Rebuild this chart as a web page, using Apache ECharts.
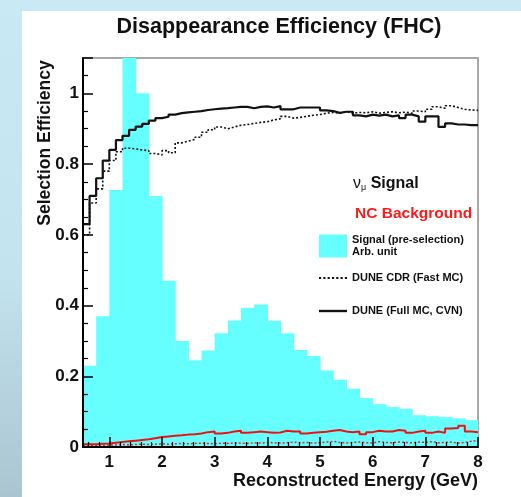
<!DOCTYPE html>
<html><head><meta charset="utf-8">
<script src="https://cdn.jsdelivr.net/npm/echarts@6/dist/echarts.min.js"></script>
<style>
html,body{margin:0;padding:0;width:521px;height:497px;overflow:hidden;}
body{background:linear-gradient(to bottom,#c9eaf5 0%,#c3e3ef 55%,#aac5d0 100%);position:relative;}
#panel{position:absolute;left:22px;top:11px;right:0;bottom:0;background:#fff;}
#chart{position:absolute;left:0;top:0;width:521px;height:497px;}
</style></head><body><div id="panel"></div><div id="chart"></div>
<script>
// ---- axis range / binning ----
const xMin = 0.5, xMax = 8;
const yMin = 0, yMax = 1.1;
const signalBinWidth = 0.25;   // GeV
const effBinWidth = 0.125;     // GeV

// ---- Signal (pre-selection), arbitrary units, 0.25 GeV bins from 0.5 GeV ----
const signalPreSel = [0.23, 0.37, 0.727, 1.2, 1.0, 0.71, 0.47, 0.30, 0.245, 0.273,
  0.322, 0.358, 0.394, 0.403, 0.357, 0.322, 0.274, 0.257, 0.216, 0.19,
  0.165, 0.138, 0.121, 0.113, 0.108, 0.09, 0.087, 0.085, 0.081, 0.076];

// ---- nu_mu signal efficiency, 0.125 GeV bins from 0.5 GeV ----
const cvnFullMC = [0.63, 0.71, 0.76, 0.81, 0.84, 0.868, 0.88, 0.897, 0.906, 0.914,
  0.923, 0.93, 0.934, 0.94, 0.944, 0.946, 0.948, 0.95, 0.953, 0.955,
  0.957, 0.958, 0.96, 0.962, 0.962, 0.958, 0.962, 0.963, 0.96, 0.964,
  0.955, 0.955, 0.96, 0.96, 0.96, 0.96, 0.952, 0.95, 0.945, 0.948,
  0.948, 0.938, 0.935, 0.94, 0.937, 0.94, 0.935, 0.938, 0.93, 0.94,
  0.935, 0.92, 0.935, 0.935, 0.905, 0.915, 0.912, 0.912, 0.91, 0.91];
const cdrFastMC = [0.60, 0.69, 0.73, 0.78, 0.81, 0.835, 0.845, 0.843, 0.84, 0.838,
  0.83, 0.826, 0.838, 0.832, 0.86, 0.865, 0.87, 0.876, 0.89, 0.897,
  0.905, 0.9, 0.905, 0.91, 0.912, 0.915, 0.918, 0.92, 0.925, 0.928,
  0.935, 0.93, 0.932, 0.935, 0.938, 0.94, 0.944, 0.946, 0.944, 0.948,
  0.944, 0.946, 0.945, 0.948, 0.944, 0.946, 0.948, 0.945, 0.947, 0.944,
  0.95, 0.948, 0.955, 0.962, 0.958, 0.965, 0.96, 0.955, 0.953, 0.952];

// ---- NC background efficiency, 0.125 GeV bins from 0.5 GeV ----
const ncFullMC = [0.008, 0.008, 0.009, 0.01, 0.012, 0.014, 0.016, 0.018, 0.02, 0.022,
  0.025, 0.028, 0.03, 0.032, 0.033, 0.035, 0.036, 0.038, 0.042, 0.044,
  0.038, 0.04, 0.044, 0.046, 0.04, 0.042, 0.044, 0.042, 0.04, 0.041,
  0.046, 0.044, 0.044, 0.038, 0.04, 0.042, 0.043, 0.046, 0.048, 0.044,
  0.042, 0.044, 0.036, 0.042, 0.046, 0.044, 0.044, 0.048, 0.046, 0.04,
  0.044, 0.046, 0.04, 0.044, 0.04, 0.052, 0.054, 0.06, 0.044, 0.042];
const ncFastMC = [0.004, 0.005, 0.005, 0.006, 0.006, 0.007, 0.006, 0.007, 0.008, 0.007,
  0.008, 0.009, 0.008, 0.009, 0.01, 0.009, 0.01, 0.011, 0.01, 0.009,
  0.011, 0.01, 0.012, 0.011, 0.01, 0.012, 0.011, 0.013, 0.012, 0.011,
  0.012, 0.014, 0.012, 0.013, 0.011, 0.012, 0.014, 0.016, 0.013, 0.012,
  0.013, 0.014, 0.012, 0.011, 0.015, 0.013, 0.012, 0.014, 0.013, 0.012,
  0.014, 0.013, 0.015, 0.012, 0.013, 0.014, 0.011, 0.013, 0.016, 0.018];

// ---- names ----
const nameSignal = 'Signal (pre-selection)\nArb. unit';
const nameCDR = 'DUNE CDR (Fast MC)';
const nameCVN = 'DUNE (Full MC, CVN)';

const FONT = '"Liberation Sans", Arial, Helvetica, sans-serif';

// legend icons drawn as plain line samples
const iconSolid = 'path://M0,0h26v2.2h-26z';
let iconDotted = 'path://';
for (let k = 0; k < 7; k++) iconDotted += 'M' + (k * 4) + ',0h2v1.8h-2z';

function stepData(vals, w) {
  const d = vals.map((v, i) => [xMin + i * w, v]);
  d.push([xMin + vals.length * w, vals[vals.length - 1]]);
  return d;
}
const histData = signalPreSel.map((v, i) => [xMin + i * signalBinWidth, xMin + (i + 1) * signalBinWidth, v]);

const legendText = {fontFamily: FONT, fontWeight: 'bold', fontSize: 11, color: '#111', lineHeight: 12};
function legendBox(name, icon, top, h) {
  return {orient: 'vertical', left: 319, top: top, padding: 0, itemWidth: 28, itemHeight: h,
    selectedMode: false, textStyle: legendText, data: [{name: name, icon: icon}]};
}

const chart = echarts.init(document.getElementById('chart'), null, {renderer: 'canvas'});
chart.setOption({
  backgroundColor: 'transparent',
  animation: false,
  title: {
    text: 'Disappearance Efficiency (FHC)',
    left: 279, top: 16, padding: 0, textAlign: 'center',
    textStyle: {fontFamily: FONT, fontWeight: 'bold', fontSize: 21.5, color: '#111'}
  },
  grid: {left: 83, right: 43, top: 58, bottom: 50, show: true, borderColor: '#a8a8a8', borderWidth: 2, backgroundColor: 'transparent'},
  legend: [
    legendBox(nameSignal, 'rect', 234, 23),
    legendBox(nameCDR, iconDotted, 272, 12),
    legendBox(nameCVN, iconSolid, 305, 12)
  ],
  xAxis: {
    type: 'value', min: xMin, max: xMax, splitNumber: 8, minInterval: 1, maxInterval: 1, z: 10,
    axisLine: {show: true, onZero: false, lineStyle: {color: '#000', width: 2}},
    axisTick: {show: true, inside: true, length: 10, lineStyle: {color: '#000', width: 1.5}},
    minorTick: {show: true, splitNumber: 5, length: 5, lineStyle: {color: '#000', width: 1.2}},
    splitLine: {show: false},
    axisLabel: {showMinLabel: false, margin: 7, fontFamily: FONT, fontWeight: 'bold', fontSize: 17, color: '#111'},
    name: 'Reconstructed Energy (GeV)', nameLocation: 'end', nameGap: 0,
    nameTextStyle: {fontFamily: FONT, fontWeight: 'bold', fontSize: 18, color: '#111', align: 'right', verticalAlign: 'top', padding: [25, 0, 0, 0]}
  },
  yAxis: {
    type: 'value', min: yMin, max: yMax, interval: 0.2, z: 10,
    axisLine: {show: true, onZero: false, lineStyle: {color: '#000', width: 2}},
    axisTick: {show: true, inside: true, length: 10, lineStyle: {color: '#000', width: 1.5}},
    minorTick: {show: true, splitNumber: 4, length: 5, lineStyle: {color: '#000', width: 1.2}},
    splitLine: {show: false},
    axisLabel: {showMaxLabel: false, margin: 4, fontFamily: FONT, fontWeight: 'bold', fontSize: 17, color: '#111'}
  },
  graphic: [
    {type: 'text', x: 45, y: 143, rotation: Math.PI / 2, z: 20,
     style: {text: 'Selection Efficiency', fontFamily: FONT, fontWeight: 'bold', fontSize: 17.5, fill: '#111', align: 'center', verticalAlign: 'middle'}},
    {type: 'text', x: 353, y: 184, z: 20,
     style: {text: '{n|ν}{m|μ}{s| Signal}', verticalAlign: 'middle', align: 'left',
       rich: {n: {fontFamily: FONT, fontSize: 16, fill: '#111'},
              m: {fontFamily: FONT, fontSize: 9, fill: '#111', padding: [8, 0, 0, 0]},
              s: {fontFamily: FONT, fontWeight: 'bold', fontSize: 16, fill: '#111'}}}},
    {type: 'text', x: 355, y: 214, z: 20,
     style: {text: 'NC Background', fontFamily: FONT, fontWeight: 'bold', fontSize: 15.5, fill: '#ff1a1a', align: 'left', verticalAlign: 'middle'}}
  ],
  series: [
    {
      name: nameSignal, type: 'custom', z: 1,
      itemStyle: {color: '#66ffff'},
      encode: {x: [0, 1], y: 2},
      data: histData,
      renderItem: function (params, api) {
        const p0 = api.coord([api.value(0), 0]);
        const p1 = api.coord([api.value(1), api.value(2)]);
        const cs = params.coordSys;
        const r = echarts.graphic.clipRectByRect(
          {x: p0[0], y: p1[1], width: p1[0] - p0[0] + 0.6, height: p0[1] - p1[1]},
          {x: cs.x, y: cs.y, width: cs.width, height: cs.height});
        return r && {type: 'rect', shape: r, style: {fill: '#66ffff'}};
      }
    },
    {name: nameCDR, type: 'line', step: 'end', symbol: 'none', z: 3,
     lineStyle: {color: '#111', width: 1.6, type: [2, 2]}, itemStyle: {color: '#111'},
     data: stepData(cdrFastMC, effBinWidth)},
    {name: nameCVN, type: 'line', step: 'end', symbol: 'none', z: 4,
     lineStyle: {color: '#111', width: 2.2}, itemStyle: {color: '#111'},
     data: stepData(cvnFullMC, effBinWidth)},
    {name: 'NC CDR (Fast MC)', type: 'line', step: 'end', symbol: 'none', z: 3,
     lineStyle: {color: '#ee2222', width: 1.5, type: [2, 2]},
     data: stepData(ncFastMC, effBinWidth)},
    {name: 'NC DUNE (Full MC, CVN)', type: 'line', step: 'end', symbol: 'none', z: 4,
     lineStyle: {color: '#ee1111', width: 2}, itemStyle: {color: '#ee1111'},
     data: stepData(ncFullMC, effBinWidth)}
  ]
});
</script></body></html>
